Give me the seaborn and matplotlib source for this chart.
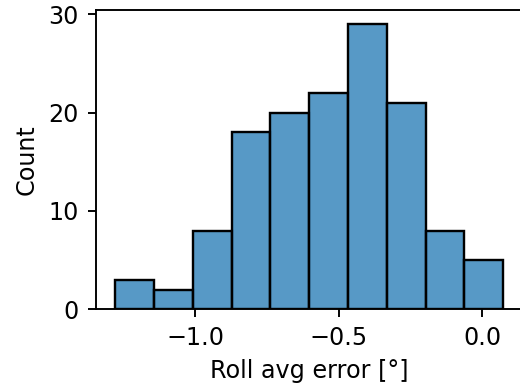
import numpy as np
import pandas as pd
import matplotlib
matplotlib.use("Agg")
import matplotlib.pyplot as plt
import seaborn as sns

# histogram: 10 bins
bin_lo = -1.28
bin_width = 0.1353
counts = [3, 2, 8, 18, 20, 22, 29, 21, 8, 5]

edges = bin_lo + bin_width * np.arange(len(counts) + 1)
centers = (edges[:-1] + edges[1:]) / 2
df = pd.DataFrame({"roll_err": centers, "n": counts})

DPI = 172
fig = plt.figure(figsize=(520 / DPI, 386 / DPI), dpi=DPI)
ax = fig.add_axes([0.184, 0.199, 0.821, 0.775])

sns.histplot(data=df, x="roll_err", weights="n", bins=edges.tolist(), ax=ax)

ax.set_xlabel("Roll avg error [°]")
ax.set_ylabel("Count")
ax.set_yticks([0, 10, 20, 30])
ax.set_xticks([-1.0, -0.5, 0.0])

fig.savefig("out.png", dpi=DPI)
plt.close(fig)
